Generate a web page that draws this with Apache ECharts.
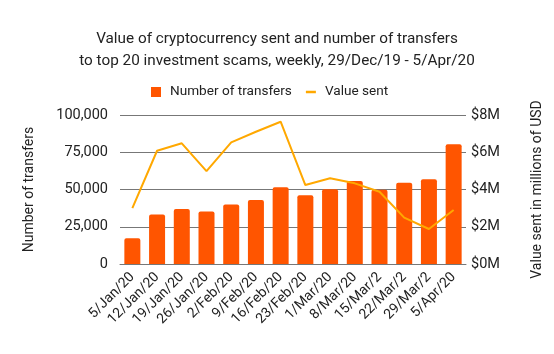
<!DOCTYPE html>
<html>
<head>
<meta charset="utf-8">
<script src="https://cdn.jsdelivr.net/npm/echarts@6/dist/echarts.min.js"></script>
<style>
  html, body { margin: 0; padding: 0; background: #fff; }
  #chart { width: 554px; height: 354px; }
</style>
</head>
<body>
<div id="chart"></div>
<script>
// weekly data
var weeks = ['5/Jan/20', '12/Jan/20', '19/Jan/20', '26/Jan/20', '2/Feb/20', '9/Feb/20', '16/Feb/20',
  '23/Feb/20', '1/Mar/20', '8/Mar/20', '15/Mar/20', '22/Mar/20', '29/Mar/20', '5/Apr/20'];
// the labels as they are shown (some got cut off)
var tickLabels = ['5/Jan/20', '12/Jan/20', '19/Jan/20', '26/Jan/20', '2/Feb/20', '9/Feb/20', '16/Feb/20',
  '23/Feb/20', '1/Mar/20', '8/Mar/20', '15/Mar/2', '22/Mar/2', '29/Mar/2', '5/Apr/20'];
var transfers = [17200, 33300, 36900, 35300, 40000, 43000, 51500, 46100, 50100, 55700, 49800, 54600, 56800, 80300];
var valueSent = [3.0, 6.08, 6.48, 4.99, 6.53, 7.1, 7.64, 4.24, 4.6, 4.33, 3.88, 2.49, 1.88, 2.9]; // millions USD

var leftTicks = [0, 25000, 50000, 75000, 100000];
var rightTicks = [0, 2, 4, 6, 8];

var chart = echarts.init(document.getElementById('chart'));
var font = 'Roboto, "Noto Sans", sans-serif';

var option = {
  textStyle: { fontFamily: font },
  animation: false,
  title: {
    text: 'Value of cryptocurrency sent and number of transfers\nto top 20 investment scams, weekly, 29/Dec/19 - 5/Apr/20',
    left: 'center',
    top: 23,
    textStyle: { fontSize: 15.3, fontWeight: 'normal', color: '#222', lineHeight: 22, fontFamily: font }
  },
  legend: {
    left: 146,
    top: 80,
    itemWidth: 10,
    itemHeight: 10,
    itemGap: 14,
    textStyle: { fontSize: 13.6, color: '#222', padding: [0, 0, 0, 4] },
    data: [
      { name: 'Number of transfers', icon: 'rect' },
      { name: 'Value sent', icon: 'path://M0,0H10V2.5H0Z' }
    ]
  },
  grid: { left: 120, right: 88, top: 115, bottom: 90 },
  xAxis: {
    type: 'category',
    data: weeks,
    axisTick: { show: false },
    axisLine: { lineStyle: { color: '#777' } },
    axisLabel: {
      rotate: 45,
      interval: 0,
      margin: 11,
      fontSize: 14,
      color: '#222',
      formatter: function (v, i) { return tickLabels[i]; }
    }
  },
  yAxis: [
    {
      type: 'value',
      min: leftTicks[0],
      max: leftTicks[leftTicks.length - 1],
      interval: 25000,
      name: 'Number of transfers',
      nameLocation: 'middle',
      nameGap: 84,
      nameTextStyle: { fontSize: 14, color: '#222' },
      axisLabel: {
        fontSize: 14.5, color: '#222', margin: 12,
        formatter: function (v) { return v.toLocaleString('en-US'); }
      },
      splitLine: { lineStyle: { color: '#777' } }
    },
    {
      type: 'value',
      min: rightTicks[0],
      max: rightTicks[rightTicks.length - 1],
      interval: 2,
      name: 'Value sent in millions of USD',
      nameLocation: 'middle',
      nameGap: 64,
      nameRotate: 90,
      nameTextStyle: { fontSize: 14, color: '#222' },
      axisLabel: {
        fontSize: 14.5, color: '#222', margin: 5,
        formatter: function (v) { return '$' + v + 'M'; }
      },
      splitLine: { show: false }
    }
  ],
  series: [
    {
      name: 'Number of transfers',
      type: 'bar',
      yAxisIndex: 0,
      barWidth: 16,
      itemStyle: { color: '#ff5500', borderRadius: [2, 2, 0, 0] },
      data: transfers
    },
    {
      name: 'Value sent',
      type: 'line',
      yAxisIndex: 1,
      symbol: 'none',
      lineStyle: { color: '#ffa800', width: 2 },
      itemStyle: { color: '#ffa800' },
      data: valueSent
    }
  ]
};

chart.setOption(option);
</script>
</body>
</html>
